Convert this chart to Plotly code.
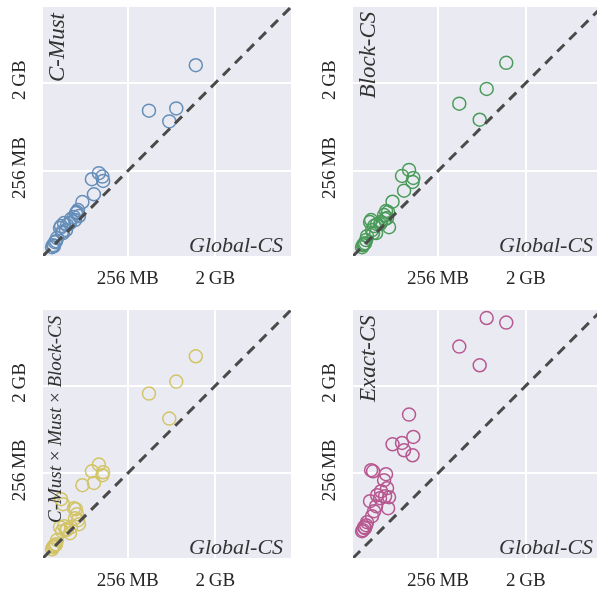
import plotly.graph_objects as go

# Memory (MB) per benchmark, baseline Global-CS on x
global_cs = [42.4, 43.4, 44.4, 45.5, 46.6, 47.7, 51.2, 52.5, 53.7, 55.0, 56.3, 59.1, 60.5,
             64.9, 66.5, 71.4, 73.1, 74.8, 76.6, 78.5, 80.3, 87.2, 109.2, 114.6, 128.9,
             140.1, 142.7, 423.7, 686.6, 810.0, 1288]
c_must = [42.1, 44.2, 43.2, 47.4, 48.6, 52.2, 66.2, 69.4, 60.2, 58.8, 74.5, 63.1, 71.1,
          74.5, 81.9, 85.9, 80.0, 94.5, 96.8, 101.4, 88.0, 122.6, 210.3, 147.2, 242.5,
          223.7, 201.9, 1063.7, 824.9, 1123, 3117]
block_cs = [42.1, 44.2, 45.3, 46.3, 49.8, 54.7, 76.3, 80.0, 63.1, 58.8, 69.4, 58.8, 72.8,
            72.8, 76.3, 90.1, 81.9, 99.1, 83.9, 96.8, 67.7, 123.5, 227.3, 160.3, 262.1,
            197.2, 216.9, 1256, 859, 1780, 3299]
combo = [42.1, 44.2, 45.3, 46.3, 47.4, 52.2, 71.1, 138.2, 64.6, 122.6, 72.8, 66.2, 67.7,
         61.6, 71.1, 111.5, 88.0, 108.9, 96.8, 83.9, 76.3, 192.6, 268.3, 203.3, 314.7,
         244.2, 262.1, 1697, 937.8, 2257, 4116]
exact_cs = [64.6, 66.2, 71.1, 69.4, 74.5, 80.0, 131.7, 275, 92.2, 268.3, 103.9, 117.0, 151.8,
            141.4, 166.9, 216.9, 148.2, 250.0, 179.3, 111.5, 144.8, 509.5, 525.6, 441.9, 1031,
            392.4, 605.9, 5181, 3325, 10215, 9159]

tick_vals = [256, 2048]
tick_text = ["256\u2009MB", "2\u2009GB"]
panel_names = ["<i>C-Must</i>", "<i>Block-CS</i>",
               "<i>C-Must</i> \u00d7 <i>Must</i> \u00d7 <i>Block-CS</i>", "<i>Exact-CS</i>"]
x_name = "<i>Global-CS</i>"
colors = ["#4477AA", "#228833", "#CCBB44", "#AA3377"]
series = [c_must, block_cs, combo, exact_cs]

W, H = 597, 595
LO, HI = 1.534, 4.092      # log10 MB axis range
HI_RIGHT = 4.043           # right panels are clipped at the figure edge

def px(x):
    return x / W

def py(y):
    return 1 - y / H

xdomains = [[px(43), px(291)], [px(353), 1.0], [px(43), px(291)], [px(353), 1.0]]
ydomains = [[py(256), py(7)], [py(256), py(7)], [py(558), py(310)], [py(558), py(310)]]

fig = go.Figure()
font_family = "Liberation Serif, DejaVu Serif, serif"
txt_color = "#262626"

for i in range(4):
    sfx = "" if i == 0 else str(i + 1)
    xa, ya = "x" + sfx, "y" + sfx
    fig.add_trace(go.Scatter(
        x=global_cs, y=series[i], mode="markers", xaxis=xa, yaxis=ya,
        marker=dict(symbol="circle-open", size=13, color=colors[i], line=dict(width=1.5)),
        opacity=0.8, showlegend=False, hoverinfo="skip"))
    lo_mb, hi_mb = 10 ** LO, 10 ** HI
    fig.add_trace(go.Scatter(
        x=[lo_mb, hi_mb], y=[lo_mb, hi_mb], mode="lines", xaxis=xa, yaxis=ya,
        line=dict(color="#4a4a4a", width=3, dash="10px,7px"),
        showlegend=False, hoverinfo="skip"))
    right = i in (1, 3)
    axis_common = dict(type="log", tickvals=tick_vals, ticktext=tick_text,
                       showgrid=True, gridcolor="white", gridwidth=1.6,
                       zeroline=False, showline=False, ticks="", automargin=False,
                       tickfont=dict(family=font_family, size=19, color=txt_color))
    fig.layout["xaxis" + sfx] = dict(axis_common, domain=xdomains[i], anchor=ya,
                                     range=[LO, HI_RIGHT if right else HI],
                                     ticklabelstandoff=8)
    fig.layout["yaxis" + sfx] = dict(axis_common, domain=ydomains[i], anchor=xa,
                                     range=[LO, HI], tickangle=-90,
                                     ticklabelstandoff=13)

annotations = []
# x names (bottom-right, inside)
for (xr, yc) in [(285, 244), (595, 244), (285, 546), (595, 546)]:
    annotations.append(dict(text=x_name, x=px(xr), y=py(yc), xref="paper", yref="paper",
                            xanchor="right", yanchor="middle", showarrow=False,
                            font=dict(family=font_family, size=22, color="#333333")))
# y names (top-left, inside, rotated)
for name, (xc, yt) in zip(panel_names, [(56, 10), (367, 10), (54, 313), (367, 313)]):
    annotations.append(dict(text=name, x=px(xc), y=py(yt), xref="paper", yref="paper",
                            xanchor="center", yanchor="top", textangle=-90, showarrow=False,
                            font=dict(family=font_family, size=23 if "×" not in name else 19,
                                      color="#333333")))

fig.update_layout(width=W, height=H, margin=dict(l=0, r=0, t=0, b=0),
                  paper_bgcolor="white", plot_bgcolor="#EAEAF2",
                  annotations=annotations)

fig.write_html("out.html", config={"displayModeBar": False},
               post_script="document.body.style.margin='0';document.body.style.overflow='hidden';")
